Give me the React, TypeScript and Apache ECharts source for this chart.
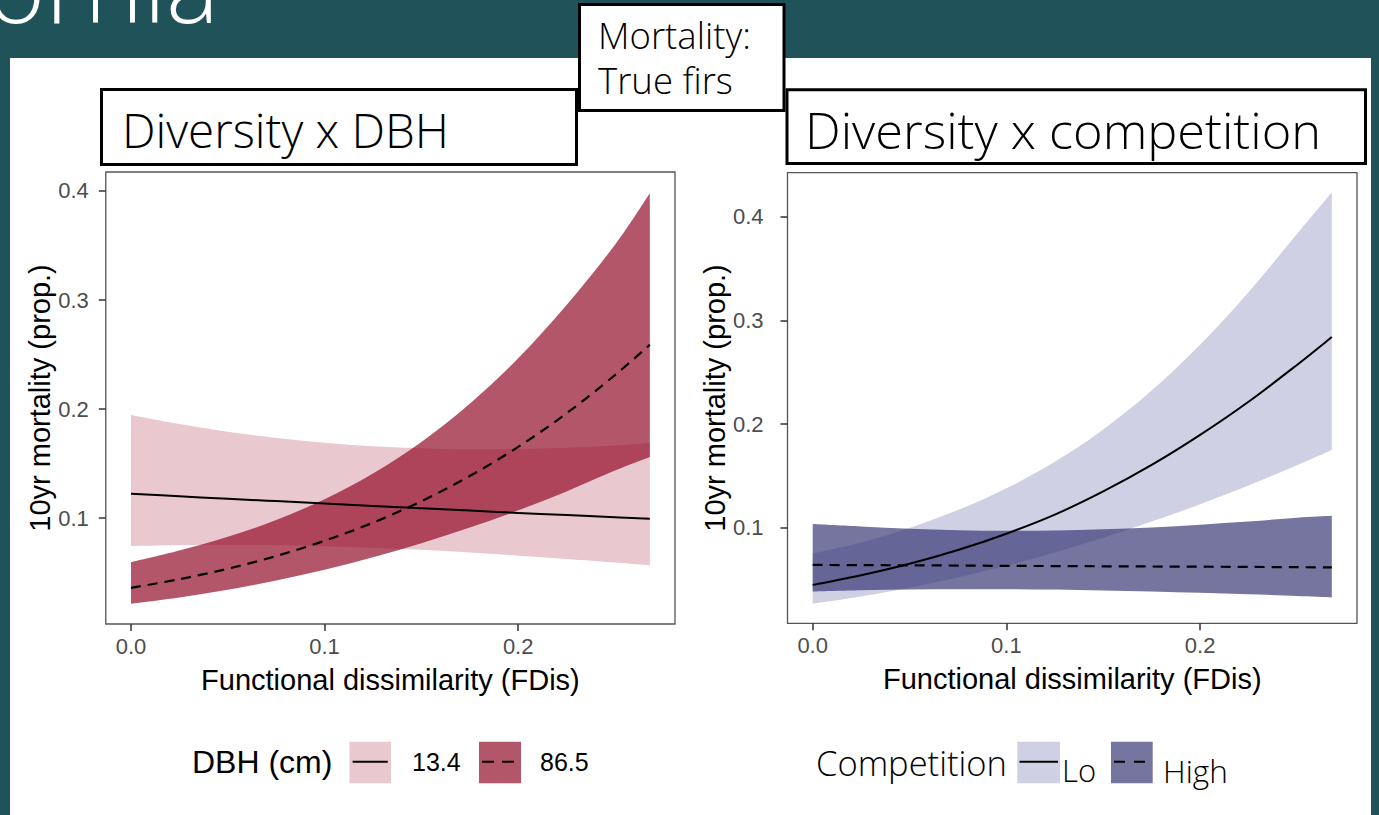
import React, { useEffect, useRef } from "react";
import * as echarts from "echarts";

// Functional dissimilarity values at which the model predictions are drawn
const FDIS = [0, 0.025, 0.05, 0.075, 0.1, 0.125, 0.15, 0.175, 0.2, 0.225, 0.25, 0.268];

// Diversity x DBH: predicted 10-yr mortality and 95% band, DBH = 13.4 cm
const dbhSmallFit = [0.1224, 0.12, 0.1177, 0.1156, 0.1134, 0.1112, 0.109, 0.1069, 0.1048, 0.1028, 0.1008, 0.0994];
const dbhSmallLo = [0.0745, 0.0752, 0.0754, 0.0751, 0.0743, 0.0729, 0.0709, 0.0684, 0.0656, 0.0626, 0.0593, 0.0567];
const dbhSmallHi = [0.1945, 0.1862, 0.1792, 0.1735, 0.1691, 0.1659, 0.164, 0.1631, 0.1633, 0.1645, 0.1665, 0.1692];

// Diversity x DBH: DBH = 86.5 cm
const dbhLargeFit = [0.036, 0.044, 0.0536, 0.0652, 0.0792, 0.0958, 0.1155, 0.1386, 0.1653, 0.1961, 0.2312, 0.259];
const dbhLargeLo = [0.0215, 0.0273, 0.0343, 0.0428, 0.0527, 0.0641, 0.0769, 0.0913, 0.1071, 0.1245, 0.1436, 0.156];
const dbhLargeHi = [0.0595, 0.0702, 0.0828, 0.0983, 0.1174, 0.1409, 0.1698, 0.2049, 0.2465, 0.2954, 0.3507, 0.398];

// Diversity x competition: low competition
const compLoFit = [0.0447, 0.0541, 0.0652, 0.0785, 0.0942, 0.1126, 0.135, 0.1605, 0.1895, 0.2215, 0.257, 0.2839];
const compLoLo = [0.0267, 0.0337, 0.042, 0.0519, 0.0633, 0.0762, 0.0904, 0.1059, 0.1226, 0.1408, 0.1603, 0.175];
const compLoHi = [0.075, 0.0857, 0.0998, 0.117, 0.138, 0.1636, 0.1948, 0.2324, 0.2765, 0.3272, 0.3832, 0.4235];

// Diversity x competition: high competition
const compHighFit = [0.0641, 0.0639, 0.0637, 0.0635, 0.0632, 0.063, 0.0628, 0.0626, 0.0624, 0.0622, 0.0619, 0.0618];
const compHighLo = [0.0385, 0.0397, 0.0404, 0.0407, 0.0407, 0.0403, 0.0395, 0.0385, 0.0372, 0.0357, 0.0342, 0.0328];
const compHighHi = [0.1035, 0.1012, 0.099, 0.0976, 0.097, 0.0973, 0.0984, 0.1002, 0.1029, 0.1059, 0.1097, 0.1115];

const X_TICKS = [0, 0.1, 0.2];
const Y_TICKS = [0.1, 0.2, 0.3, 0.4];

const DBH_LEVELS = ["13.4", "86.5"];
const COMPETITION_LEVELS = ["Lo", "High"];

const PLOT_FONT = "'Liberation Sans', Arial, sans-serif";
const SLIDE_FONT = "'Open Sans', 'DejaVu Sans', sans-serif";

const COLORS = {
  slide: "#205259",
  dbhSmallFill: "#eac8d0",
  dbhLargeFill: "rgba(142,2,32,0.667)",
  dbhLargeKey: "#b4566a",
  compLoFill: "#d0d0e5",
  compHighFill: "rgba(46,46,111,0.66)",
  compHighKey: "#75759f",
};

const TICK_STYLE = { color: "#333", width: 1.5 };

const fmt = (v: number) => v.toFixed(1);

// Cubic Catmull-Rom segments through pixel points (the leading point is assumed current)
function curveThrough(pts: number[][]): string {
  let d = "";
  const k = 1 / 6;
  for (let i = 0; i < pts.length - 1; i++) {
    const p0 = pts[i - 1] || pts[i];
    const p1 = pts[i];
    const p2 = pts[i + 1];
    const p3 = pts[i + 2] || p2;
    const c1x = p1[0] + (p2[0] - p0[0]) * k;
    const c1y = p1[1] + (p2[1] - p0[1]) * k;
    const c2x = p2[0] - (p3[0] - p1[0]) * k;
    const c2y = p2[1] - (p3[1] - p1[1]) * k;
    d += ` C${c1x.toFixed(2)},${c1y.toFixed(2)} ${c2x.toFixed(2)},${c2y.toFixed(2)} ${p2[0].toFixed(2)},${p2[1].toFixed(2)}`;
  }
  return d;
}

// Confidence band: filled region between the lower and upper limits
function band(axis: number, lo: number[], hi: number[], color: string) {
  return {
    type: "custom",
    coordinateSystem: "cartesian2d",
    xAxisIndex: axis,
    yAxisIndex: axis,
    silent: true,
    z: 2,
    data: FDIS.map((x, i) => [x, lo[i], hi[i]]),
    encode: { x: 0, y: [1, 2] },
    renderItem: (params: any, api: any) => {
      if (params.dataIndex !== 0) return { type: "group", children: [] };
      const up = FDIS.map((x, i) => api.coord([x, hi[i]]));
      const dn = FDIS.map((x, i) => api.coord([x, lo[i]])).reverse();
      const d =
        `M${up[0][0].toFixed(2)},${up[0][1].toFixed(2)}` +
        curveThrough(up) +
        ` L${dn[0][0].toFixed(2)},${dn[0][1].toFixed(2)}` +
        curveThrough(dn) +
        " Z";
      return { type: "path", shape: { pathData: d }, style: { fill: color } };
    },
  };
}

// Fitted mortality curve
function fitLine(axis: number, fit: number[], dashed: boolean) {
  return {
    type: "custom",
    coordinateSystem: "cartesian2d",
    xAxisIndex: axis,
    yAxisIndex: axis,
    silent: true,
    z: 4,
    data: FDIS.map((x, i) => [x, fit[i]]),
    encode: { x: 0, y: 1 },
    renderItem: (params: any, api: any) => {
      if (params.dataIndex !== 0) return { type: "group", children: [] };
      const pts = FDIS.map((x, i) => api.coord([x, fit[i]]));
      const d = `M${pts[0][0].toFixed(2)},${pts[0][1].toFixed(2)}` + curveThrough(pts);
      return {
        type: "path",
        shape: { pathData: d },
        style: {
          fill: "none",
          stroke: "#000",
          lineWidth: dashed ? 2.2 : 2,
          lineDash: dashed ? [10, 7] : null,
        },
      };
    },
  };
}

function xAxis(grid: number) {
  return {
    type: "value",
    gridIndex: grid,
    min: -0.013,
    max: 0.281,
    axisLine: { show: false, onZero: false },
    splitLine: { show: false },
    axisTick: { show: true, length: 7, customValues: X_TICKS, lineStyle: TICK_STYLE },
    axisLabel: { customValues: X_TICKS, formatter: fmt, color: "#4d4d4d", fontSize: 22, fontFamily: PLOT_FONT, margin: 11 },
    name: "Functional dissimilarity (FDis)",
    nameLocation: "middle",
    nameGap: 41,
    nameTextStyle: { color: "#000", fontSize: 29, fontFamily: PLOT_FONT },
  };
}

function yAxis(grid: number, min: number, max: number, labelMargin: number, nameGap: number) {
  return {
    type: "value",
    gridIndex: grid,
    min,
    max,
    axisLine: { show: false, onZero: false },
    splitLine: { show: false },
    axisTick: { show: true, length: 7, customValues: Y_TICKS, lineStyle: TICK_STYLE },
    axisLabel: { customValues: Y_TICKS, formatter: fmt, color: "#4d4d4d", fontSize: 22, fontFamily: PLOT_FONT, margin: labelMargin },
    name: "10yr mortality (prop.)",
    nameLocation: "middle",
    nameRotate: 90,
    nameGap,
    nameTextStyle: { color: "#000", fontSize: 29, fontFamily: PLOT_FONT },
  };
}

function text(t: string, x: number, y: number, size: number, font: string, weight: number | string = "normal", fill = "#000", align = "left") {
  return {
    type: "text",
    x,
    y,
    z: 110,
    style: {
      text: t,
      fill,
      fontSize: size,
      fontFamily: font,
      fontWeight: weight,
      align,
      textAlign: align,
      verticalAlign: "middle",
      textVerticalAlign: "middle",
    },
  };
}

function box(x: number, y: number, w: number, h: number, z: number) {
  return {
    type: "rect",
    z,
    shape: { x, y, width: w, height: h },
    style: { fill: "#fff", stroke: "#000", lineWidth: 3 },
  };
}

function keySquare(x: number, y: number, w: number, h: number, fill: string) {
  return { type: "rect", z: 105, shape: { x, y, width: w, height: h }, style: { fill } };
}

function keyLine(x1: number, x2: number, y: number, dash: number[] | null) {
  return {
    type: "line",
    z: 106,
    shape: { x1, y1: y, x2, y2: y },
    style: { stroke: "#000", lineWidth: 2, lineDash: dash || undefined },
  };
}

export default function App() {
  const ref = useRef<HTMLDivElement>(null);

  useEffect(() => {
    if (!ref.current) return;
    const chart = echarts.init(ref.current, undefined, { renderer: "svg" });

    const option: any = {
      animation: false,
      backgroundColor: COLORS.slide,
      grid: [
        { left: 105.8, top: 172, width: 569.2, height: 452, show: true, borderColor: "#555", borderWidth: 1.3, backgroundColor: "transparent" },
        { left: 787.5, top: 172.7, width: 569.5, height: 450.6, show: true, borderColor: "#555", borderWidth: 1.3, backgroundColor: "transparent" },
      ],
      xAxis: [xAxis(0), xAxis(1)],
      yAxis: [yAxis(0, 0.0029, 0.4174, 17, 49), yAxis(1, 0.0078, 0.4424, 24, 55)],
      series: [
        band(0, dbhSmallLo, dbhSmallHi, COLORS.dbhSmallFill),
        band(0, dbhLargeLo, dbhLargeHi, COLORS.dbhLargeFill),
        fitLine(0, dbhSmallFit, false),
        fitLine(0, dbhLargeFit, true),
        band(1, compLoLo, compLoHi, COLORS.compLoFill),
        band(1, compHighLo, compHighHi, COLORS.compHighFill),
        fitLine(1, compLoFit, false),
        fitLine(1, compHighFit, true),
      ],
      graphic: [
        // white content panel of the slide
        { type: "rect", z: -10, shape: { x: 10, y: 58, width: 1361, height: 757 }, style: { fill: "#fff" } },
        // slide title, running off the top-left corner
        text("California", 219, -16, 100, SLIDE_FONT, 300, "#fff", "right"),
        // heading boxes
        box(101.5, 89.5, 475, 75, 100),
        text("Diversity x DBH", 122, 129, 47.5, SLIDE_FONT, 300),
        box(787, 89.8, 578.5, 73.7, 100),
        text("Diversity x competition", 805, 129.5, 50.5, SLIDE_FONT, 300),
        box(579.5, 4.5, 204.5, 106, 102),
        text("Mortality:", 598, 35, 36.5, SLIDE_FONT, 300),
        text("True firs", 598, 80, 36.5, SLIDE_FONT, 300),
        // DBH legend
        text("DBH (cm)", 192, 762, 32, PLOT_FONT),
        keySquare(349.5, 741.7, 41.5, 41.6, COLORS.dbhSmallFill),
        keyLine(352.6, 387.8, 761.7, null),
        text(DBH_LEVELS[0], 412, 762, 25, PLOT_FONT),
        keySquare(479, 741.7, 42, 41.6, COLORS.dbhLargeKey),
        keyLine(482, 518, 761.7, [12, 8]),
        text(DBH_LEVELS[1], 540, 762, 25, PLOT_FONT),
        // competition legend
        text("Competition", 816, 762, 34.5, SLIDE_FONT, 300),
        keySquare(1017.3, 741.7, 42.7, 41.6, COLORS.compLoFill),
        keyLine(1019.5, 1058, 761.7, null),
        text(COMPETITION_LEVELS[0], 1062, 770, 31, SLIDE_FONT, 300),
        keySquare(1111, 741.7, 41.7, 41.6, COLORS.compHighKey),
        keyLine(1114, 1147, 761.7, [11, 9]),
        text(COMPETITION_LEVELS[1], 1163, 770, 31.5, SLIDE_FONT, 300),
      ],
    };

    chart.setOption(option);
    return () => chart.dispose();
  }, []);

  return (
    <div
      ref={ref}
      style={{ position: "fixed", left: 0, top: 0, width: 1379, height: 815 }}
    />
  );
}
